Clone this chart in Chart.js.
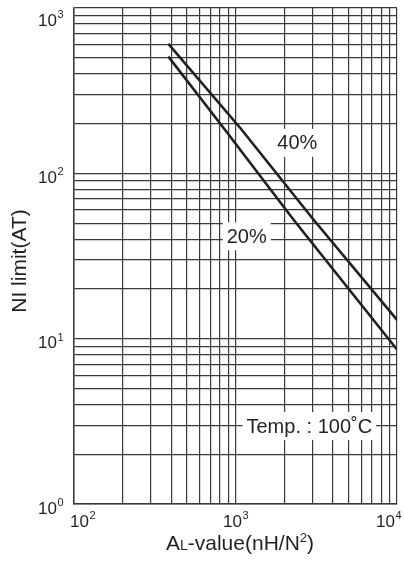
<!DOCTYPE html>
<html>
<head>
<meta charset="utf-8">
<script src="https://cdn.jsdelivr.net/npm/chart.js@4.4.1/dist/chart.umd.min.js"></script>
<style>
  body { margin: 0; background: #fff; }
  #wrap { width: 404px; height: 561px; }
</style>
</head>
<body>
<div id="wrap"><canvas id="chart"></canvas></div>
<script>
// AL-value (nH/N^2) vs NI limit (AT)
const alValues40 = [384, 1080, 3045, 10000];
const niLimit40 = [606, 186, 52.4, 13.0];
const alValues20 = [384, 851, 2289, 10000];
const niLimit20 = [508, 186, 52.4, 8.6];

// grid lines (every 1..9 per decade)
const xGridValues = [100, 200, 300, 400, 500, 600, 700, 800, 900,
  1000, 2000, 3000, 4000, 5000, 6000, 7000, 8000, 9000, 10000];
const yGridValues = [1, 2, 3, 4, 5, 6, 7, 8, 9,
  10, 20, 30, 40, 50, 60, 70, 80, 90,
  100, 200, 300, 400, 500, 600, 700, 800, 900, 1000];

// decade tick labels: 10^exp
const xTickValues = [100, 1000, 10000];
const xTickExps = ['2', '3', '4'];
const yTickValues = [1, 10, 100, 1000];
const yTickExps = ['0', '1', '2', '3'];

// curve labels, placed in data coordinates
const labelTexts = ['40%', '20%', 'Temp. : 100\u02DAC'];
const labelX = [2413, 1174, 2864];
const labelY = [153, 41.6, 2.96];

const ink = '#231f20';
const gridColor = '#3a3a3a';
const fontFamily = '"Liberation Sans", Arial, Helvetica, sans-serif';

const toPoints = (xs, ys) => xs.map((x, i) => ({ x, y: ys[i] }));

// draws tick labels with superscripts, axis titles and the boxed labels
const decorations = {
  id: 'decorations',
  afterDatasetsDraw(chart) {
    const ctx = chart.ctx;
    const xs = chart.scales.x;
    const ys = chart.scales.y;
    ctx.save();
    ctx.fillStyle = ink;

    // boxed labels on the grid
    ctx.font = '20px ' + fontFamily;
    ctx.textAlign = 'center';
    ctx.textBaseline = 'middle';
    labelTexts.forEach((txt, i) => {
      const px = xs.getPixelForValue(labelX[i]);
      const py = ys.getPixelForValue(labelY[i]);
      const w = ctx.measureText(txt).width;
      ctx.fillStyle = '#fff';
      ctx.fillRect(px - w / 2 - 4, py - 14, w + 8, 28);
      ctx.fillStyle = ink;
      ctx.fillText(txt, px, py + 1);
    });

    // y tick labels
    ctx.textBaseline = 'middle';
    yTickValues.forEach((v, i) => {
      const py = ys.getPixelForValue(v);
      const cy = Math.max(py + 5, 21);
      ctx.font = '17px ' + fontFamily;
      ctx.textAlign = 'right';
      ctx.fillText('10', 57, cy);
      ctx.font = '11px ' + fontFamily;
      ctx.textAlign = 'left';
      ctx.fillText(yTickExps[i], 57.5, cy - 6);
    });

    // x tick labels
    xTickValues.forEach((v, i) => {
      const px = xs.getPixelForValue(v);
      ctx.font = '17px ' + fontFamily;
      const wb = ctx.measureText('10').width;
      ctx.font = '11px ' + fontFamily;
      const we = ctx.measureText(xTickExps[i]).width;
      let left = px - (wb + we) / 2;
      left = Math.max(70, Math.min(left, 401 - wb - we));
      ctx.textAlign = 'left';
      ctx.font = '17px ' + fontFamily;
      ctx.fillText('10', left, 522);
      ctx.font = '11px ' + fontFamily;
      ctx.fillText(xTickExps[i], left + wb + 0.5, 516);
    });

    // x axis title: A(L)-value(nH/N2)
    const parts = [
      { t: 'A', size: 21, dy: 0 },
      { t: 'L', size: 14, dy: 0 },
      { t: '-value(nH/N', size: 21, dy: 0 },
      { t: '2', size: 13, dy: -8 },
      { t: ')', size: 21, dy: 0 }
    ];
    let total = 0;
    parts.forEach(p => {
      ctx.font = p.size + 'px ' + fontFamily;
      p.w = ctx.measureText(p.t).width;
      total += p.w;
    });
    let tx = 240 - total / 2;
    ctx.textAlign = 'left';
    ctx.textBaseline = 'alphabetic';
    parts.forEach(p => {
      ctx.font = p.size + 'px ' + fontFamily;
      ctx.fillText(p.t, tx, 550 + p.dy);
      tx += p.w;
    });

    // y axis title
    ctx.translate(20, 261);
    ctx.rotate(-Math.PI / 2);
    ctx.font = '21px ' + fontFamily;
    ctx.textAlign = 'center';
    ctx.textBaseline = 'middle';
    ctx.fillText('NI limit(AT)', 0, 0);
    ctx.restore();
  }
};

const ctx = document.getElementById('chart').getContext('2d');
new Chart(ctx, {
  type: 'line',
  data: {
    datasets: [
      {
        label: '40%',
        data: toPoints(alValues40, niLimit40),
        borderColor: ink,
        borderWidth: 2.6,
        pointRadius: 0,
        tension: 0,
        fill: false
      },
      {
        label: '20%',
        data: toPoints(alValues20, niLimit20),
        borderColor: ink,
        borderWidth: 2.6,
        pointRadius: 0,
        tension: 0,
        fill: false
      }
    ]
  },
  options: {
    responsive: true,
    maintainAspectRatio: false,
    animation: false,
    layout: { padding: { left: 74, right: 7, top: 8, bottom: 57 } },
    plugins: {
      legend: { display: false },
      tooltip: { enabled: false }
    },
    scales: {
      x: {
        type: 'logarithmic',
        min: 100,
        max: 10000,
        afterBuildTicks: (scale) => { scale.ticks = xGridValues.map(v => ({ value: v })); },
        ticks: { display: false, autoSkip: false },
        grid: { color: gridColor, lineWidth: 1.2, drawTicks: false },
        border: { display: true, color: gridColor, width: 1.5 }
      },
      y: {
        type: 'logarithmic',
        min: 1,
        max: 1000,
        afterBuildTicks: (scale) => { scale.ticks = yGridValues.map(v => ({ value: v })); },
        ticks: { display: false, autoSkip: false },
        grid: { color: gridColor, lineWidth: 1.2, drawTicks: false },
        border: { display: true, color: gridColor, width: 1.5 }
      }
    }
  },
  plugins: [decorations]
});
</script>
</body>
</html>
